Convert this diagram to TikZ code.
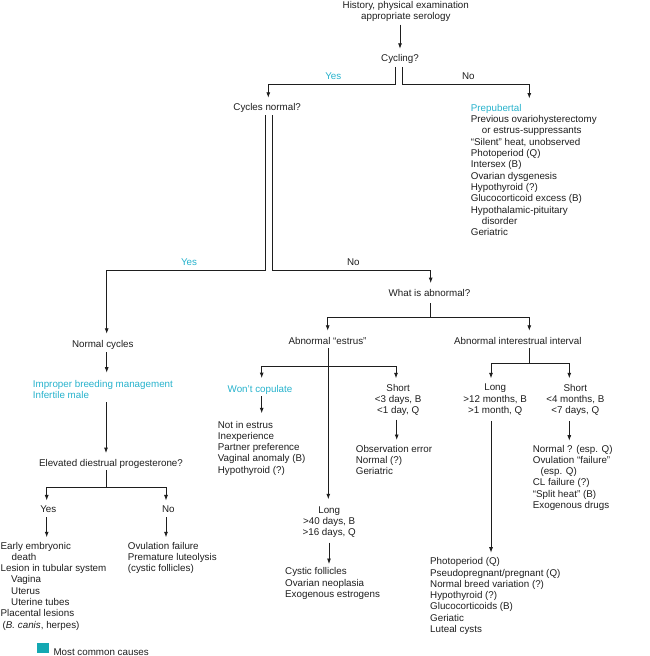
\documentclass[tikz,border=0pt]{standalone}
\usepackage{fontspec}
\setmainfont{Liberation Sans}
\usetikzlibrary{calc,arrows.meta}
\definecolor{ink}{RGB}{30,30,30}
\definecolor{hi}{RGB}{38,178,204}
\definecolor{sq}{RGB}{20,168,178}
\tikzset{
  txt/.style={inner sep=0pt, font=\fontsize{9.8}{11.3}\selectfont, text=ink,
    execute at begin node=\strut, execute at end node=\strut},
  lst/.style={txt, align=left, anchor=north west},
  ctr/.style={txt, align=center, anchor=north},
  lbl/.style={txt, anchor=base},
  hl/.style={text=hi},
  conn/.style={draw=ink, line width=0.85pt},
  arr/.style={conn, -{Latex[length=5.5pt,width=4pt]}},
  arrtwo/.style={conn, {Latex[length=5.5pt,width=4pt]}-{Latex[length=5.5pt,width=4pt]}},
}
\begin{document}
\begin{tikzpicture}[x=1pt,y=-1pt]
\useasboundingbox (0,0) rectangle (650,656);
% nodes
\node[ctr] (hist) at (405.8,0.7) {History, physical examination\\appropriate serology};
\node[lbl] (cyc) at (400,61.9) {Cycling?};
\node[lbl,hl] (yesA) at (333.3,79.3) {Yes};
\node[lbl] (noA) at (468.3,79.3) {No};
\node[lbl] (cn) at (267.2,110.9) {Cycles normal?};
\node[lst] (pre) at (470.7,104.0) {{\color{hi}Prepubertal}\\Previous ovariohysterectomy\\\hspace*{11pt}or estrus-suppressants\\“Silent” heat, unobserved\\Photoperiod (Q)\\Intersex (B)\\Ovarian dysgenesis\\Hypothyroid (?)\\Glucocorticoid excess (B)\\Hypothalamic-pituitary\\\hspace*{11pt}disorder\\Geriatric};
\node[lbl,hl] (yesB) at (189,265.3) {Yes};
\node[lbl] (noB) at (353.3,265.3) {No};
\node[lbl] (wia) at (429.5,296.9) {What is abnormal?};
\node[lbl] (ae) at (327.5,344.3) {Abnormal “estrus”};
\node[lbl] (ai) at (517.8,344.3) {Abnormal interestrual interval};
\node[lbl,hl] (wc) at (260,392.6) {Won’t copulate};
\node[lst] (wcl) at (217.7,420.7) {Not in estrus\\Inexperience\\Partner preference\\Vaginal anomaly (B)\\Hypothyroid (?)};
\node[ctr] (shA) at (398.2,384.0) {Short\\<3 days, B\\<1 day, Q};
\node[lst] (shAl) at (355.7,444.7) {Observation error\\Normal (?)\\Geriatric};
\node[ctr] (lgA) at (329.2,506.4) {Long\\>40 days, B\\>16 days, Q};
\node[lst] (lgAl) at (285,567.4) {Cystic follicles\\Ovarian neoplasia\\Exogenous estrogens};
\node[ctr] (lgB) at (495.2,384.0) {Long\\>12 months, B\\>1 month, Q};
\node[lst] (lgBl) at (430,557.4) {Photoperiod (Q)\\Pseudopregnant/pregnant (Q)\\Normal breed variation (?)\\Hypothyroid (?)\\Glucocorticoids (B)\\Geriatic\\Luteal cysts};
\node[ctr] (shB) at (575.3,384.0) {Short\\<4 months, B\\<7 days, Q};
\node[lst] (shBl) at (532.7,444.7) {Normal ? (esp. Q)\\Ovulation “failure”\\\hspace*{7.6pt}(esp. Q)\\CL failure (?)\\“Split heat” (B)\\Exogenous drugs};
\node[lbl] (nc) at (102.8,347.6) {Normal cycles};
\node[lst,hl] (ibm) at (32.7,380.0) {Improper breeding management\\Infertile male};
\node[lbl] (edp) at (111,466.9) {Elevated diestrual progesterone?};
\node[lbl] (yesC) at (48.3,512.9) {Yes};
\node[lbl] (noC) at (168.3,512.9) {No};
\node[lst] (yl) at (0.5,541.7) {Early embryonic\\\hspace*{11pt}death\\Lesion in tubular system\\\hspace*{10.5pt}Vagina\\\hspace*{10.5pt}Uterus\\\hspace*{10.5pt}Uterine tubes\\Placental lesions\\\hspace*{2pt}(\textit{B. canis}, herpes)};
\node[lst] (nl) at (127.7,541.7) {Ovulation failure\\Premature luteolysis\\(cystic follicles)};
\node[fill=sq, minimum width=11.6pt, minimum height=10pt, inner sep=0pt, anchor=north west] (legbox) at (36.7,642.3) {};
\node[txt, anchor=base west] (legtxt) at (53.3,655.3) {Most common causes};
% connectors
\draw[arr] ($(cyc.north |- hist.south)+(0,1.7)$) -- ($(cyc.north)+(0,-5)$);
\draw[arr] ($(cyc.south)+(-5,1.4)$) -- ($(cyc.south)+(-5,19)$) -| ($(cn.north)+(1.1,-5)$);
\draw[arr] ($(cyc.south)+(2.7,1.4)$) -- ($(cyc.south)+(2.7,19)$) -| ($(pre.north west)+(58.6,-5.5)$);
\draw[arr] ($(cn.south)+(-1.5,0.7)$) -- ($(cn.south)+(-1.5,156.2)$) -| ($(nc.north)+(3.9,-5.7)$);
\draw[arr] ($(cn.south)+(5.1,0.7)$) -- ($(cn.south)+(5.1,156.2)$) -| ($(wia.north)+(1.2,-5.7)$);
\draw[arr] ($(wia.south)+(1.2,3)$) -- ($(wia.south)+(1.2,17.4)$) -| ($(ae.north)+(0.2,-5.4)$);
\draw[arr] ($(wia.south)+(1.2,17.4)$) -| ($(ai.north)+(11.5,-5.4)$);
\draw[arr] ($(ae.south)+(0.8,0.3)$) -- ($(lgA.north)+(-0.9,-7.1)$);
\draw[arrtwo] ($(wc.north)+(1.7,-6.4)$) |- ($(ae.south)+(0,19)$) -| ($(shA.north)+(-2.2,-5.7)$);
\draw[arr] ($(wc.south)+(1.7,0)$) -- ($(wcl.north west)+(44,-7.4)$);
\draw[arr] ($(shA.south)+(-1.5,2.1)$) -- ($(shAl.north west)+(41,-4.7)$);
\draw[arr] ($(lgA.south)+(-0.2,3)$) -- ($(lgAl.north west)+(44,-3.4)$);
\draw[conn] ($(ai.south)+(11.5,0.3)$) -- ($(ai.south)+(11.5,15.6)$);
\draw[arrtwo] ($(lgB.north)+(-4.2,-5.7)$) |- ($(ai.south)+(11.5,15.6)$) -| ($(shB.north)+(-6,-5.7)$);
\draw[arr] ($(lgB.south)+(-4.2,3.8)$) -- ($(lgBl.north west)+(61,-4.7)$);
\draw[arr] ($(shB.south)+(-6,3.8)$) -- ($(shBl.north west)+(36.6,-4)$);
\draw[arr] ($(nc.south)+(3.9,1.3)$) -- ($(ibm.north west)+(74,-7.3)$);
\draw[arr] ($(ibm.south west)+(73.3,0.1)$) -- ($(edp.north)+(-5,-5.7)$);
\draw[conn] ($(edp.south)+(-5,0)$) -- ($(edp.south)+(-5,17)$);
\draw[arrtwo] ($(yesC.north)+(-1.6,-4.3)$) |- ($(edp.south)+(-5,17)$) -| ($(noC.north)+(-2.3,-4.3)$);
\draw[arr] ($(yesC.south)+(-1.6,1)$) -- ($(yl.north west)+(46.2,-4.4)$);
\draw[arr] ($(noC.south)+(-2.3,1)$) -- ($(nl.north west)+(38.3,-4.4)$);
\end{tikzpicture}
\end{document}
